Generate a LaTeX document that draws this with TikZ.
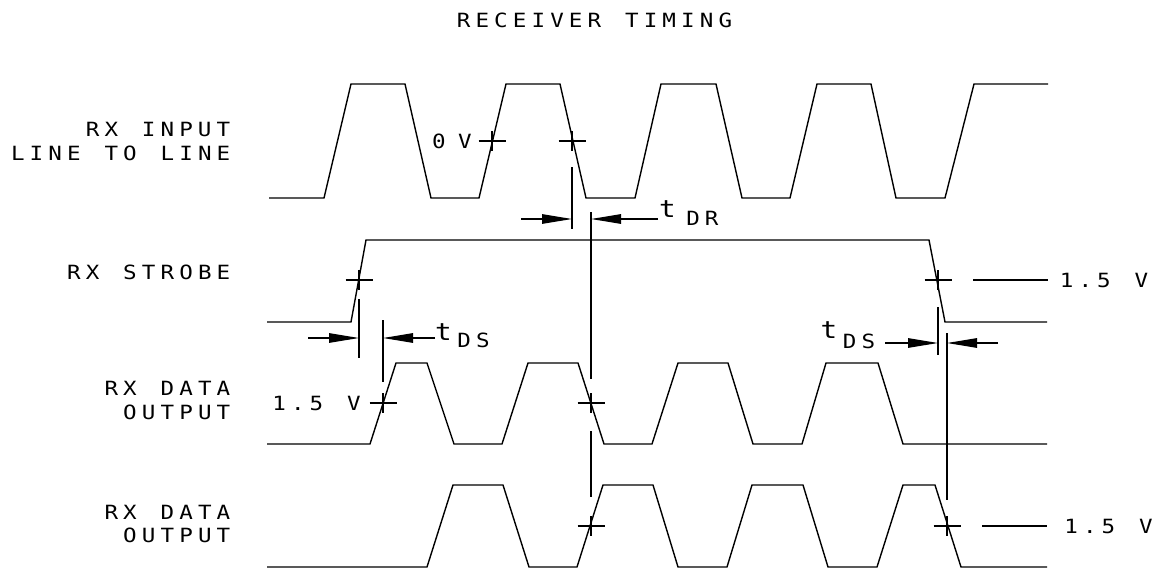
\documentclass[tikz,border=0pt]{standalone}
\usepackage{fontspec}
\usetikzlibrary{arrows.meta}
\newfontfamily\plotfont[FakeStretch=1.15]{DejaVu Sans Mono}
\newlength\pitchw
\setlength\pitchw{18.7pt}
\makeatletter
\def\pt@end{\pt@end}
\newcommand\pitchtext[1]{\pt@loop#1\pt@end}
\def\pt@loop#1{\ifx#1\pt@end\else\hbox to\pitchw{\hss#1\hss}\expandafter\pt@loop\fi}
\makeatother
\newcommand\bigt{{\fontsize{24pt}{26pt}\selectfont\pitchtext{t}}}
\begin{document}
\begin{tikzpicture}[x=1pt,y=-1pt,
  wave/.style={line width=1.4pt,line join=miter},
  dimline/.style={line width=1.2pt},
  dimarrow/.style={line width=1.2pt,-{Triangle[length=30pt,width=9.5pt]}},
  lbl/.style={inner sep=0pt,outer sep=0pt,font=\plotfont\fontsize{19.6pt}{23pt}\selectfont},
  xmark/.pic={\draw[line width=1.2pt] (-13.5,0) -- (13.5,0) (0,-10) -- (0,10);}
]
\useasboundingbox (0,0) rectangle (1160,570);

% title and labels
\node[lbl,anchor=base] (title) at (594.5,27.3) {\pitchtext{RECEIVER~TIMING}};
\node[lbl,anchor=base east] (in1) at (232.85,136.7) {\pitchtext{RX~INPUT}};
\node[lbl,anchor=base east] (in2) at (232.85,160.7) {\pitchtext{LINE~TO~LINE}};
\node[lbl,anchor=base east] (stb) at (232.85,279.5) {\pitchtext{RX~STROBE}};
\node[lbl,anchor=base east] (da1) at (232.85,395.7) {\pitchtext{RX~DATA}};
\node[lbl,anchor=base east] (da2) at (232.85,419) {\pitchtext{OUTPUT}};
\node[lbl,anchor=base east] (db1) at (232.85,519.3) {\pitchtext{RX~DATA}};
\node[lbl,anchor=base east] (db2) at (232.85,542.6) {\pitchtext{OUTPUT}};

% waveforms
\draw[wave] (269,198) -- (324,198) -- (351,84) -- (405,84) -- (431,198) -- (479,198)
  -- (506,84) -- (560,84) -- (586,198) -- (635,198) -- (661,84) -- (716,84) -- (742,198)
  -- (790,198) -- (817,84) -- (871,84) -- (896,198) -- (945,198) -- (974,84) -- (1048,84);
\draw[wave] (267,322) -- (351,322) -- (366,240) -- (929,240) -- (945,322) -- (1047,322);
\draw[wave] (267,444) -- (370,444) -- (396,363) -- (427,363) -- (454,444) -- (502,444)
  -- (528,363) -- (578,363) -- (604,444) -- (652,444) -- (678,363) -- (728,363) -- (753,444)
  -- (802,444) -- (826,363) -- (878,363) -- (903,444) -- (1047,444);
\draw[wave] (267,567) -- (427,567) -- (453,485) -- (503,485) -- (529,567) -- (577,567)
  -- (603,485) -- (653,485) -- (678,567) -- (727,567) -- (752,485) -- (803,485) -- (828,567)
  -- (877,567) -- (903,485) -- (935,485) -- (961,567) -- (1047,567);

% crossing marks
\pic at (492,141) {xmark};
\pic at (572,141) {xmark};
\pic at (359,280) {xmark};
\pic at (938,280) {xmark};
\pic at (383,403) {xmark};
\pic at (591,403) {xmark};
\pic at (591,526) {xmark};
\pic at (947,526) {xmark};

% extension lines
\draw[dimline] (572,167) -- (572,229);
\draw[dimline] (591,212) -- (591,379);
\draw[dimline] (591,431) -- (591,497);
\draw[dimline] (359,299) -- (359,358);
\draw[dimline] (383,320) -- (383,382);
\draw[dimline] (938,307) -- (938,355);
\draw[dimline] (947,333) -- (947,500);
\coordinate (lvA) at (973,280);
\coordinate (lvAe) at (1048,280);
\coordinate (lvB) at (982,526);
\coordinate (lvBe) at (1047,526);
\draw[dimline] (lvA) -- (lvAe);
\draw[dimline] (lvB) -- (lvBe);

% dimension arrows
\coordinate (drL) at (521,219);  \coordinate (drLt) at (572,219);
\coordinate (drR) at (658,219);  \coordinate (drRt) at (591,219);
\coordinate (dsL) at (308,338);  \coordinate (dsLt) at (359,338);
\coordinate (dsR) at (435,338);  \coordinate (dsRt) at (383,338);
\coordinate (esL) at (885,343);  \coordinate (esLt) at (938,343);
\coordinate (esR) at (998,343);  \coordinate (esRt) at (947,343);
\draw[dimarrow] (drL) -- (drLt);
\draw[dimarrow] (drR) -- (drRt);
\draw[dimarrow] (dsL) -- (dsLt);
\draw[dimarrow] (dsR) -- (dsRt);
\draw[dimarrow] (esL) -- (esLt);
\draw[dimarrow] (esR) -- (esRt);

% value labels
\node[lbl,anchor=base] (zv) at (452,148) {\pitchtext{0}\kern7.3pt\pitchtext{V}};
\node[lbl,anchor=base] (v1) at (316.5,410) {\pitchtext{1.5~V}};
\node[lbl,anchor=base] (v2) at (1104,287.3) {\pitchtext{1.5~V}};
\node[lbl,anchor=base] (v3) at (1108.5,533) {\pitchtext{1.5~V}};
\node[lbl,anchor=base west] (tdr) at (658,217) {\bigt\kern7pt\raisebox{-8pt}{\pitchtext{DR}}};
\node[lbl,anchor=base west] (tds1) at (434.2,340.5) {\bigt\kern2pt\raisebox{-7pt}{\pitchtext{DS}}};
\node[lbl,anchor=base west] (tds2) at (819.7,338) {\bigt\kern2pt\raisebox{-10pt}{\pitchtext{DS}}};
\end{tikzpicture}
\end{document}
